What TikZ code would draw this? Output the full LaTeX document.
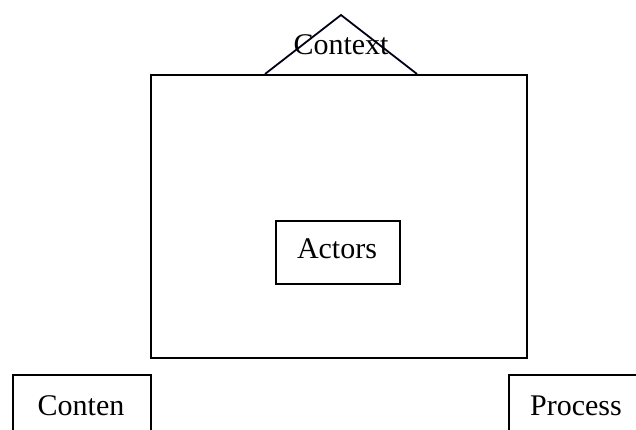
\documentclass[tikz,border=0pt]{standalone}
\usepackage{fontspec}
\setmainfont{Liberation Serif}
\begin{document}
\begin{tikzpicture}[x=1pt,y=-1pt,
  line/.style={line width=1.8pt,draw=black},
  lbl/.style={inner sep=0pt,anchor=base,font=\fontsize{30}{34}\selectfont}]
\useasboundingbox (0,0) rectangle (636,429);
% triangle
\coordinate (tl) at (265,74);
\coordinate (ta) at (341,15);
\coordinate (tr) at (417,74);
\draw[line,draw=black!90!blue,line join=miter] (tl) -- (ta) -- (tr);
% big rectangle
\node[line,rectangle,inner sep=0pt,minimum width=376,minimum height=283,anchor=north west] (frame) at (150,74) {};
% actors
\node[line,rectangle,inner sep=0pt,minimum width=124,minimum height=63,anchor=north west] (actbox) at (275,220) {};
\node[lbl] (act) at (337,258) {Actors};
% bottom boxes (cut by page edge)
\node[line,rectangle,inner sep=0pt,minimum width=138,minimum height=80,anchor=north west] (conbox) at (12,374) {};
\node[lbl] (con) at (81,415) {Conten};
\node[line,rectangle,inner sep=0pt,minimum width=160,minimum height=80,anchor=north west] (probox) at (508,374) {};
\node[lbl] (pro) at (576,415) {Process};
% context label
\node[lbl] (ctx) at (341,54) {Context};
\end{tikzpicture}
\end{document}
